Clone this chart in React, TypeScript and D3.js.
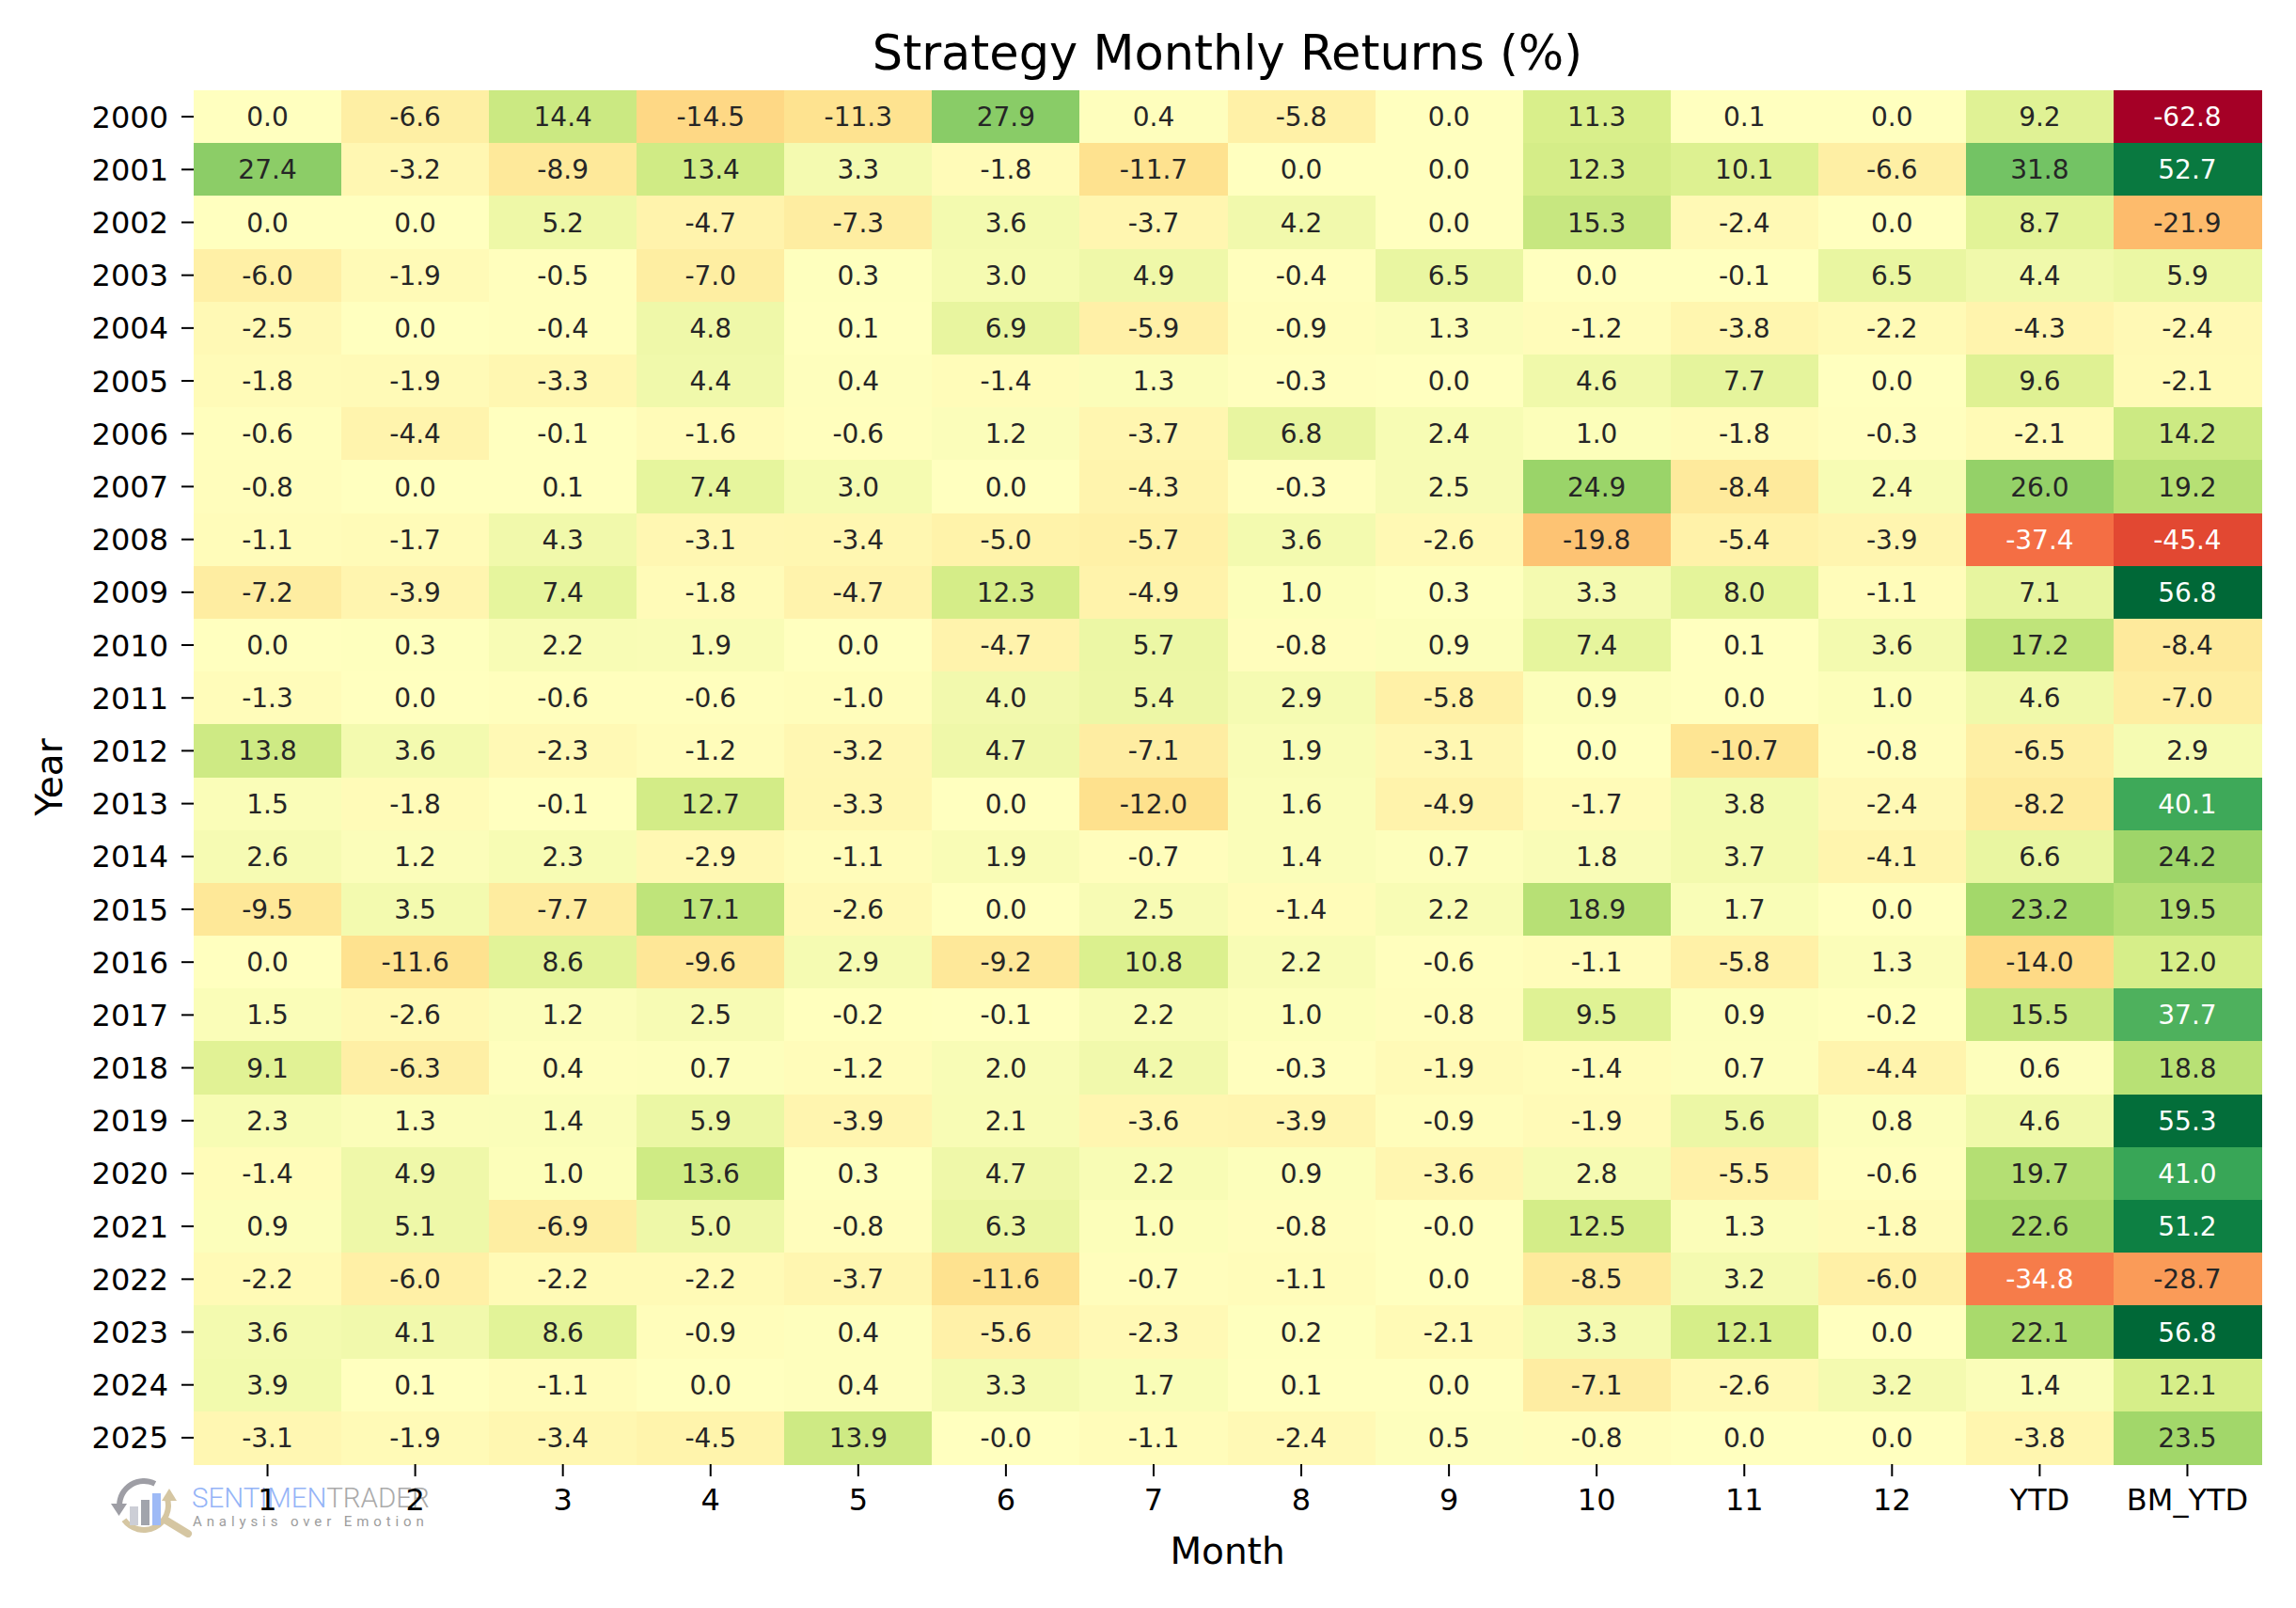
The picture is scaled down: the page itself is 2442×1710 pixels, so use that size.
import React from 'react';
import * as d3 from 'd3';

const YEARS = [
  '2000', '2001', '2002', '2003', '2004', '2005', '2006', '2007', '2008', '2009',
  '2010', '2011', '2012', '2013', '2014', '2015', '2016', '2017', '2018', '2019',
  '2020', '2021', '2022', '2023', '2024', '2025',
];

const COLUMNS = ['1', '2', '3', '4', '5', '6', '7', '8', '9', '10', '11', '12', 'YTD', 'BM_YTD'];

// monthly strategy returns, one row per year (Jan..Dec)
const MONTHLY = [
  [0.0, -6.6, 14.4, -14.5, -11.3, 27.9, 0.4, -5.8, 0.0, 11.3, 0.1, 0.0],
  [27.4, -3.2, -8.9, 13.4, 3.3, -1.8, -11.7, 0.0, 0.0, 12.3, 10.1, -6.6],
  [0.0, 0.0, 5.2, -4.7, -7.3, 3.6, -3.7, 4.2, 0.0, 15.3, -2.4, 0.0],
  [-6.0, -1.9, -0.5, -7.0, 0.3, 3.0, 4.9, -0.4, 6.5, 0.0, -0.1, 6.5],
  [-2.5, 0.0, -0.4, 4.8, 0.1, 6.9, -5.9, -0.9, 1.3, -1.2, -3.8, -2.2],
  [-1.8, -1.9, -3.3, 4.4, 0.4, -1.4, 1.3, -0.3, 0.0, 4.6, 7.7, 0.0],
  [-0.6, -4.4, -0.1, -1.6, -0.6, 1.2, -3.7, 6.8, 2.4, 1.0, -1.8, -0.3],
  [-0.8, 0.0, 0.1, 7.4, 3.0, 0.0, -4.3, -0.3, 2.5, 24.9, -8.4, 2.4],
  [-1.1, -1.7, 4.3, -3.1, -3.4, -5.0, -5.7, 3.6, -2.6, -19.8, -5.4, -3.9],
  [-7.2, -3.9, 7.4, -1.8, -4.7, 12.3, -4.9, 1.0, 0.3, 3.3, 8.0, -1.1],
  [0.0, 0.3, 2.2, 1.9, 0.0, -4.7, 5.7, -0.8, 0.9, 7.4, 0.1, 3.6],
  [-1.3, 0.0, -0.6, -0.6, -1.0, 4.0, 5.4, 2.9, -5.8, 0.9, 0.0, 1.0],
  [13.8, 3.6, -2.3, -1.2, -3.2, 4.7, -7.1, 1.9, -3.1, 0.0, -10.7, -0.8],
  [1.5, -1.8, -0.1, 12.7, -3.3, 0.0, -12.0, 1.6, -4.9, -1.7, 3.8, -2.4],
  [2.6, 1.2, 2.3, -2.9, -1.1, 1.9, -0.7, 1.4, 0.7, 1.8, 3.7, -4.1],
  [-9.5, 3.5, -7.7, 17.1, -2.6, 0.0, 2.5, -1.4, 2.2, 18.9, 1.7, 0.0],
  [0.0, -11.6, 8.6, -9.6, 2.9, -9.2, 10.8, 2.2, -0.6, -1.1, -5.8, 1.3],
  [1.5, -2.6, 1.2, 2.5, -0.2, -0.1, 2.2, 1.0, -0.8, 9.5, 0.9, -0.2],
  [9.1, -6.3, 0.4, 0.7, -1.2, 2.0, 4.2, -0.3, -1.9, -1.4, 0.7, -4.4],
  [2.3, 1.3, 1.4, 5.9, -3.9, 2.1, -3.6, -3.9, -0.9, -1.9, 5.6, 0.8],
  [-1.4, 4.9, 1.0, 13.6, 0.3, 4.7, 2.2, 0.9, -3.6, 2.8, -5.5, -0.6],
  [0.9, 5.1, -6.9, 5.0, -0.8, 6.3, 1.0, -0.8, -0.0, 12.5, 1.3, -1.8],
  [-2.2, -6.0, -2.2, -2.2, -3.7, -11.6, -0.7, -1.1, 0.0, -8.5, 3.2, -6.0],
  [3.6, 4.1, 8.6, -0.9, 0.4, -5.6, -2.3, 0.2, -2.1, 3.3, 12.1, 0.0],
  [3.9, 0.1, -1.1, 0.0, 0.4, 3.3, 1.7, 0.1, 0.0, -7.1, -2.6, 3.2],
  [-3.1, -1.9, -3.4, -4.5, 13.9, -0.0, -1.1, -2.4, 0.5, -0.8, 0.0, 0.0],
];

const YTD = [
  9.2, 31.8, 8.7, 4.4, -4.3, 9.6, -2.1, 26.0, -37.4, 7.1, 17.2, 4.6, -6.5,
  -8.2, 6.6, 23.2, -14.0, 15.5, 0.6, 4.6, 19.7, 22.6, -34.8, 22.1, 1.4, -3.8,
];

const BM_YTD = [
  -62.8, 52.7, -21.9, 5.9, -2.4, -2.1, 14.2, 19.2, -45.4, 56.8, -8.4, -7.0, 2.9,
  40.1, 24.2, 19.5, 12.0, 37.7, 18.8, 55.3, 41.0, 51.2, -28.7, 56.8, 12.1, 23.5,
];

const RDYLGN = [
  '#a50026', '#d73027', '#f46d43', '#fdae61', '#fee08b', '#ffffbf',
  '#d9ef8b', '#a6d96a', '#66bd63', '#1a9850', '#006837',
];

const W = 2442;
const H = 1710;
const LEFT = 206;
const RIGHT = 2405;
const TOP = 96;
const BOTTOM = 1557;
const FONT = 'DejaVu Sans, Verdana, sans-serif';

function luminance(c: string): number {
  const { r, g, b } = d3.rgb(c);
  const f = (v: number) => {
    v /= 255;
    return v <= 0.03928 ? v / 12.92 : Math.pow((v + 0.055) / 1.055, 2.4);
  };
  return 0.2126 * f(r) + 0.7152 * f(g) + 0.0722 * f(b);
}

function fmt(v: number): string {
  if (Object.is(v, -0)) return '-0.0';
  return v.toFixed(1);
}

const Logo: React.FC = () => {
  const cx = 153;
  const cy = 1601;
  const grayArc = d3.arc()({ innerRadius: 23, outerRadius: 29, startAngle: -Math.PI * 0.5, endAngle: Math.PI * 0.15 }) ?? '';
  const tanArc = d3.arc()({ innerRadius: 23, outerRadius: 29, startAngle: Math.PI * 0.4, endAngle: Math.PI * 1.3 }) ?? '';
  return (
    <g opacity={0.8}>
      <g transform={`translate(${cx},${cy})`}>
        <path d={grayArc} fill="#86878f" />
        <path d="M-35,-2 L-18,-2 L-26.5,11 Z" fill="#86878f" />
        <path d={tanArc} fill="#cbb98c" />
        <path d="M19,-5 L35,-5 L27,-18 Z" fill="#cbb98c" />
        <rect x={-15} y={1} width={9} height={20} fill="#c0c3cd" />
        <rect x={-3} y={-6} width={9} height={27} fill="#8a8e98" />
        <rect x={9} y={-13} width={9} height={34} fill="#86a9f5" />
        <line x1={24} y1={16} x2={47} y2={30} stroke="#cbb98c" strokeWidth={8} strokeLinecap="round" />
      </g>
      <text x={204} y={1603} fontFamily="Roboto, sans-serif" fontWeight={300} fontSize={29.5}>
        <tspan fill="#7aa2f6">SENTIMEN</tspan>
        <tspan fill="#959595">TRADER</tspan>
      </text>
      <text x={205} y={1623} fontFamily="Roboto, sans-serif" fontSize={15} letterSpacing={4.9} fill="#858585">
        Analysis over Emotion
      </text>
    </g>
  );
};

export default function App() {
  const x = d3.scaleBand<string>().domain(COLUMNS).range([LEFT, RIGHT]);
  const y = d3.scaleBand<string>().domain(YEARS).range([TOP, BOTTOM]);

  const rows = YEARS.map((yr, i) => [...MONTHLY[i], YTD[i], BM_YTD[i]]);
  const all = rows.flat();
  const [vmin, vmax] = d3.extent(all) as [number, number];
  // diverging norm centred on zero: lower half of the map for losses, upper half for gains
  const dom = [
    ...d3.range(5).map((i) => vmin + (i / 5) * (0 - vmin)),
    0,
    ...d3.range(1, 6).map((i) => (i / 5) * vmax),
  ];
  const color = d3
    .scaleLinear<string>()
    .domain(dom)
    .range(RDYLGN)
    .interpolate(d3.interpolateRgb)
    .clamp(true);

  const cells = YEARS.flatMap((yr, i) =>
    COLUMNS.map((col, j) => ({ yr, col, v: rows[i][j] })),
  );

  return (
    <div style={{ position: 'absolute', left: 0, top: 0, background: '#fff' }}>
      <svg width={W} height={H} viewBox={`0 0 ${W} ${H}`} style={{ display: 'block' }}>
        <rect width={W} height={H} fill="#fff" />
        <text x={(LEFT + RIGHT) / 2} y={74} textAnchor="middle" fontFamily={FONT} fontSize={51} fill="#000">
          Strategy Monthly Returns (%)
        </text>

        <g shapeRendering="crispEdges">
          {cells.map((d) => (
            <rect
              key={`${d.yr}-${d.col}`}
              x={x(d.col)}
              y={y(d.yr)}
              width={x.bandwidth() + 0.5}
              height={y.bandwidth() + 0.5}
              fill={color(d.v)}
            />
          ))}
        </g>

        <g fontFamily={FONT} fontSize={28} textAnchor="middle">
          {cells.map((d) => {
            const c = color(d.v);
            return (
              <text
                key={`t-${d.yr}-${d.col}`}
                x={(x(d.col) ?? 0) + x.bandwidth() / 2}
                y={(y(d.yr) ?? 0) + y.bandwidth() / 2}
                dy="0.36em"
                fill={luminance(c) > 0.408 ? '#262626' : '#ffffff'}
              >
                {fmt(d.v)}
              </text>
            );
          })}
        </g>

        <Logo />

        {/* y axis */}
        <g fontFamily={FONT} fontSize={32} fill="#000">
          {YEARS.map((yr) => {
            const cy = (y(yr) ?? 0) + y.bandwidth() / 2;
            return (
              <g key={`y-${yr}`}>
                <line x1={LEFT - 13} x2={LEFT} y1={cy} y2={cy} stroke="#000" strokeWidth={2} />
                <text x={LEFT - 27} y={cy} dy="0.36em" textAnchor="end">
                  {yr}
                </text>
              </g>
            );
          })}
        </g>

        {/* x axis */}
        <g fontFamily={FONT} fontSize={32} fill="#000">
          {COLUMNS.map((col) => {
            const cx = (x(col) ?? 0) + x.bandwidth() / 2;
            return (
              <g key={`x-${col}`}>
                <line x1={cx} x2={cx} y1={BOTTOM} y2={BOTTOM + 13} stroke="#000" strokeWidth={2} />
                <text x={cx} y={BOTTOM + 49} textAnchor="middle">
                  {col}
                </text>
              </g>
            );
          })}
        </g>

        <text x={(LEFT + RIGHT) / 2} y={1663} textAnchor="middle" fontFamily={FONT} fontSize={39} fill="#000">
          Month
        </text>
        <text
          transform={`translate(66,${(TOP + BOTTOM) / 2}) rotate(-90)`}
          textAnchor="middle"
          fontFamily={FONT}
          fontSize={39}
          fill="#000"
        >
          Year
        </text>
      </svg>
    </div>
  );
}
